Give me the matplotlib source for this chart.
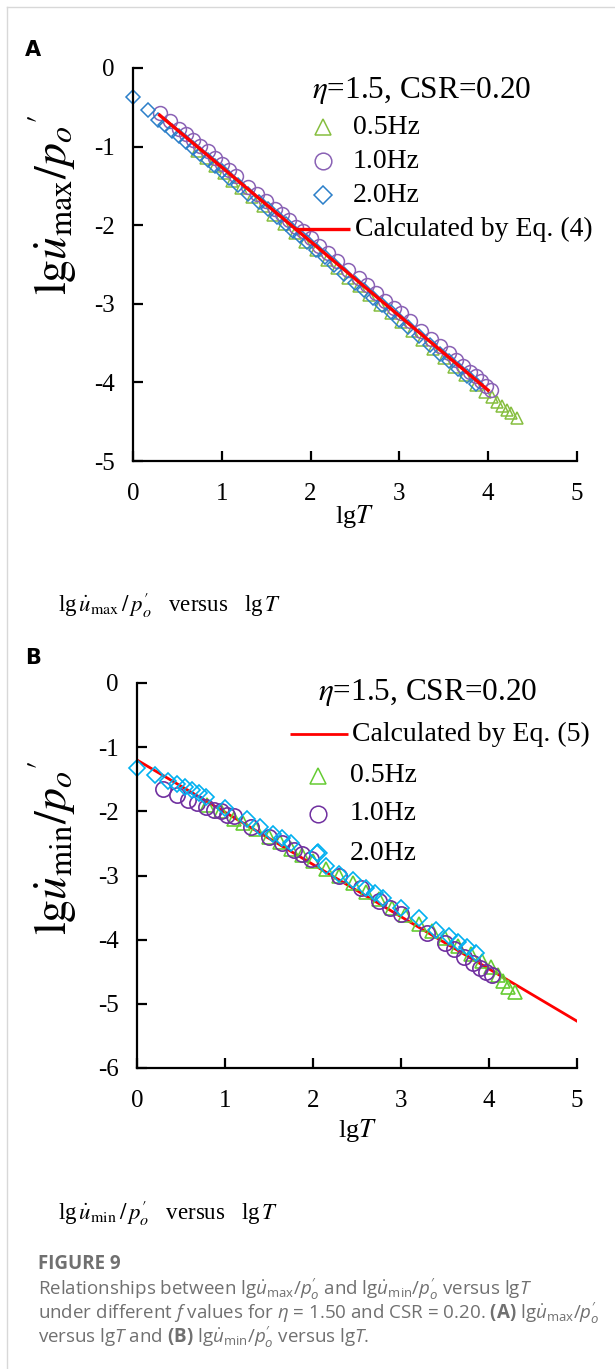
import matplotlib
matplotlib.use("Agg")
import matplotlib.pyplot as plt
from matplotlib.lines import Line2D

W, H = 615, 1369

plt.rcParams["font.family"] = ["Liberation Serif", "DejaVu Serif"]
plt.rcParams["mathtext.fontset"] = "custom"
plt.rcParams["mathtext.rm"] = "Open Sans"
plt.rcParams["mathtext.it"] = "Open Sans:italic"
plt.rcParams["mathtext.bf"] = "Open Sans:bold"

# ---- panel A data: lg(u_max/p'o) vs lgT ----
a_05_x = [0.72, 0.82, 0.92, 1.02, 1.12, 1.22, 1.34, 1.46, 1.58, 1.70, 1.82, 1.94, 2.06, 2.18, 2.30, 2.42,
          2.54, 2.66, 2.78, 2.90, 3.02, 3.14, 3.26, 3.38, 3.50, 3.62, 3.74, 3.86, 3.96, 4.04, 4.10, 4.16,
          4.21, 4.26, 4.32]
a_05_y = [-1.06, -1.15, -1.25, -1.34, -1.44, -1.53, -1.64, -1.76, -1.87, -1.98, -2.10, -2.21, -2.32, -2.44,
          -2.55, -2.67, -2.77, -2.89, -3.01, -3.12, -3.23, -3.35, -3.46, -3.57, -3.69, -3.80, -3.91, -4.03,
          -4.12, -4.19, -4.25, -4.30, -4.35, -4.39, -4.45]
a_10_x = [0.30, 0.42, 0.52, 0.60, 0.68, 0.76, 0.84, 0.92, 1.00, 1.08, 1.16, 1.30, 1.40, 1.50, 1.60, 1.68,
          1.76, 1.84, 1.92, 2.00, 2.10, 2.20, 2.30, 2.42, 2.54, 2.64, 2.74, 2.84, 2.94, 3.02, 3.12, 3.24,
          3.36, 3.46, 3.56, 3.64, 3.72, 3.80, 3.86, 3.92, 3.98, 4.03]
a_10_y = [-0.57, -0.67, -0.77, -0.84, -0.92, -0.99, -1.06, -1.15, -1.22, -1.30, -1.37, -1.51, -1.60, -1.69,
          -1.79, -1.86, -1.93, -2.02, -2.08, -2.16, -2.26, -2.35, -2.45, -2.57, -2.67, -2.76, -2.86, -2.96,
          -3.05, -3.12, -3.22, -3.34, -3.45, -3.54, -3.63, -3.71, -3.79, -3.87, -3.92, -3.98, -4.04, -4.10]
a_20_x = [0.00, 0.17, 0.28, 0.36, 0.44, 0.52, 0.60, 0.68, 0.76, 0.84, 0.92, 1.00, 1.08, 1.18, 1.30, 1.42,
          1.52, 1.62, 1.72, 1.80, 1.88, 1.96, 2.06, 2.16, 2.26, 2.38, 2.50, 2.60, 2.70, 2.80, 2.90, 3.00,
          3.10, 3.22, 3.34, 3.46, 3.56, 3.66, 3.76, 3.86]
a_20_y = [-0.37, -0.53, -0.66, -0.73, -0.80, -0.87, -0.94, -1.02, -1.09, -1.17, -1.25, -1.31, -1.40, -1.49,
          -1.60, -1.71, -1.80, -1.90, -1.99, -2.07, -2.14, -2.22, -2.31, -2.41, -2.50, -2.62, -2.73, -2.82,
          -2.92, -3.01, -3.11, -3.20, -3.30, -3.41, -3.53, -3.64, -3.73, -3.83, -3.92, -4.02]
eq4_x = [0.30, 4.00]
eq4_y = [-0.60, -4.10]

# ---- panel B data: lg(u_min/p'o) vs lgT ----
b_05_x = [0.80, 0.95, 1.10, 1.20, 1.35, 1.50, 1.62, 1.75, 1.88, 2.00, 2.15, 2.30, 2.45, 2.60, 2.75,
          2.90, 3.05, 3.20, 3.35, 3.50, 3.65, 3.80, 3.92, 4.02, 4.10, 4.16, 4.22, 4.30]
b_05_y = [-1.90, -2.00, -2.12, -2.18, -2.28, -2.40, -2.48, -2.58, -2.68, -2.77, -2.90, -3.00, -3.12, -3.25,
          -3.37, -3.50, -3.62, -3.75, -3.86, -3.98, -4.10, -4.22, -4.33, -4.42, -4.55, -4.65, -4.73, -4.82]
b_10_x = [0.30, 0.45, 0.58, 0.68, 0.78, 0.88, 0.95, 1.02, 1.10, 1.30, 1.50, 1.65, 1.78, 1.88, 1.98,
          2.30, 2.55, 2.75, 2.88, 3.00, 3.30, 3.50, 3.60, 3.72, 3.82, 3.90, 3.97, 4.03]
b_10_y = [-1.65, -1.75, -1.82, -1.87, -1.93, -1.98, -2.00, -2.05, -2.08, -2.25, -2.40, -2.50, -2.60, -2.67,
          -2.74, -3.00, -3.20, -3.40, -3.50, -3.60, -3.90, -4.05, -4.15, -4.27, -4.37, -4.44, -4.50, -4.55]
b_20_x = [0.00, 0.20, 0.35, 0.45, 0.55, 0.62, 0.70, 0.78, 1.00, 1.25, 1.40, 1.55, 1.65, 1.75, 2.05,
          2.15, 2.30, 2.45, 2.60, 2.70, 2.80, 3.00, 3.20, 3.40, 3.55, 3.65, 3.75, 3.85]
b_20_y = [-1.33, -1.43, -1.52, -1.57, -1.62, -1.67, -1.72, -1.78, -1.95, -2.12, -2.25, -2.35, -2.42, -2.50,
          -2.65, -2.85, -2.98, -3.07, -3.20, -3.27, -3.35, -3.50, -3.67, -3.85, -3.95, -4.03, -4.12, -4.20]
eq5_x = [0.00, 5.00]
eq5_y = [-1.20, -5.27]

x_ticks = [0, 1, 2, 3, 4, 5]

fig = plt.figure(figsize=(W / 100, H / 100), dpi=100)
fig.patch.set_facecolor("white")

# thin frame of the page
fig.add_artist(Line2D([7 / W, 7 / W], [0, 1 - 7 / H], color="#D8D8D8", lw=1.0, transform=fig.transFigure))
fig.add_artist(Line2D([7 / W, 1], [1 - 7 / H, 1 - 7 / H], color="#D8D8D8", lw=1.0, transform=fig.transFigure))


def px_axes(left, top, right, bottom):
    return fig.add_axes([left / W, 1 - bottom / H, (right - left) / W, (bottom - top) / H])


def fx(x):
    return x / W


def fy(y):
    return 1 - y / H


def style_axes(ax, ylim, yticks):
    ax.set_xlim(0, 5)
    ax.set_ylim(*ylim)
    ax.set_xticks(x_ticks)
    ax.set_yticks(yticks)
    ax.set_xticklabels([str(t) for t in x_ticks])
    ax.set_yticklabels([str(t) for t in yticks])
    for side in ("top", "right"):
        ax.spines[side].set_visible(False)
    for side in ("left", "bottom"):
        ax.spines[side].set_linewidth(1.6)
    ax.tick_params(direction="in", length=7, width=1.6, labelsize=18, pad=13)
    ax.tick_params(axis="x", pad=16)


def legend_marker(x, y, marker, color, size):
    fig.add_artist(Line2D([fx(x)], [fy(y)], marker=marker, ms=size, mfc="none", mec=color,
                          mew=1.1, ls="none", transform=fig.transFigure))


def legend_line(x0, x1, y, lw):
    fig.add_artist(Line2D([fx(x0), fx(x1)], [fy(y), fy(y)], color="red", lw=lw,
                          solid_capstyle="butt", transform=fig.transFigure))


def serif_text(x, y, s, size, **kw):
    fig.text(fx(x), fy(y), s, fontsize=size, math_fontfamily="stix",
             family=["Liberation Serif", "DejaVu Serif"], **kw)


# ================= panel A =================
a_green, a_purple, a_blue = "#86BE3F", "#8A62B5", "#2C7FC9"
axA = px_axes(133, 68, 577, 461)
axA.plot(a_05_x, a_05_y, ls="none", marker="^", ms=9, mfc="none", mec=a_green, mew=1.1, clip_on=False)
axA.plot(a_10_x, a_10_y, ls="none", marker="o", ms=10, mfc="none", mec=a_purple, mew=1.1, clip_on=False)
axA.plot(a_20_x, a_20_y, ls="none", marker="D", ms=7.5, mfc="none", mec=a_blue, mew=1.1, clip_on=False)
axA.plot(eq4_x, eq4_y, color="red", lw=2.4)
style_axes(axA, (-5, 0), [0, -1, -2, -3, -4, -5])

fig.text(fx(25), fy(50), "A", fontsize=15, fontweight="bold", family="DejaVu Sans", va="center")
serif_text(53, 205, r"$\mathrm{lg}\dot{u}_{\mathrm{max}}/p_o{}'$", 33, rotation=90, ha="center", va="center")
serif_text(355, 517, r"lg$T$", 19, ha="center", va="center")

serif_text(312, 90, r"$\eta$=1.5, CSR=0.20", 22.5, ha="left", va="center")
legend_marker(323, 127, "^", a_green, 11)
legend_marker(323, 161, "o", a_purple, 12)
legend_marker(323, 195, "D", a_blue, 9)
serif_text(353, 127, "0.5Hz", 20, ha="left", va="center")
serif_text(353, 161, "1.0Hz", 20, ha="left", va="center")
serif_text(353, 195, "2.0Hz", 20, ha="left", va="center")
legend_line(294, 350, 229, 2.4)
serif_text(355, 229, "Calculated by Eq. (4)", 20, ha="left", va="center")

serif_text(58, 605, r"lg$\,\dot{u}_{\mathrm{max}}\,/\,p_o^{\prime}$   versus   lg$\,T$", 16.5, ha="left", va="center")

# ================= panel B =================
b_green, b_purple, b_cyan = "#66CC33", "#7030A0", "#00B0F0"
axB = px_axes(137, 683, 577, 1068)
axB.plot(eq5_x, eq5_y, color="red", lw=2.0)
axB.plot(b_05_x, b_05_y, ls="none", marker="^", ms=10, mfc="none", mec=b_green, mew=1.2, clip_on=False)
axB.plot(b_10_x, b_10_y, ls="none", marker="o", ms=11, mfc="none", mec=b_purple, mew=1.2, clip_on=False)
axB.plot(b_20_x, b_20_y, ls="none", marker="D", ms=8, mfc="none", mec=b_cyan, mew=1.2, clip_on=False)
style_axes(axB, (-6, 0), [0, -1, -2, -3, -4, -5, -6])

fig.text(fx(25), fy(658), "B", fontsize=15, fontweight="bold", family="DejaVu Sans", va="center")
serif_text(53, 848, r"$\mathrm{lg}\dot{u}_{\mathrm{min}}/p_o{}'$", 33, rotation=90, ha="center", va="center")
serif_text(358, 1130, r"lg$T$", 19, ha="center", va="center")

serif_text(318, 693, r"$\eta$=1.5, CSR=0.20", 22.5, ha="left", va="center")
legend_line(290, 348, 734, 2.0)
serif_text(352, 734, "Calculated by Eq. (5)", 20, ha="left", va="center")
legend_marker(318, 776, "^", b_green, 11)
legend_marker(318, 814, "o", b_purple, 12)
legend_marker(318, 853, "D", b_cyan, 9)
serif_text(350, 776, "0.5Hz", 20, ha="left", va="center")
serif_text(350, 814, "1.0Hz", 20, ha="left", va="center")
serif_text(350, 853, "2.0Hz", 20, ha="left", va="center")

serif_text(58, 1213, r"lg$\,\dot{u}_{\mathrm{min}}\,/\,p_o^{\prime}$   versus   lg$\,T$", 16.5, ha="left", va="center")

# ================= figure caption =================
cap_color = "#707070"
fig.text(fx(38), fy(1264), "FIGURE 9", fontsize=13.5, fontweight="bold", color=cap_color,
         family="Open Sans", va="center")
cap_lines = [
    r"Relationships between lg$\dot{u}_{\mathrm{max}}/p_o^{\prime}$ and lg$\dot{u}_{\mathrm{min}}/p_o^{\prime}$ versus lg$T$",
    r"under different $f$ values for $\eta$ = 1.50 and CSR = 0.20. $\mathbf{(A)}$ lg$\dot{u}_{\mathrm{max}}/p_o^{\prime}$",
    r"versus lg$T$ and $\mathbf{(B)}$ lg$\dot{u}_{\mathrm{min}}/p_o^{\prime}$ versus lg$T$.",
]
for i, line in enumerate(cap_lines):
    fig.text(fx(38), fy(1289 + 24 * i), line, fontsize=13.5, color=cap_color, family="Open Sans",
             math_fontfamily="custom", va="center")

fig.savefig("out.png", dpi=100, facecolor="white")
plt.close(fig)
